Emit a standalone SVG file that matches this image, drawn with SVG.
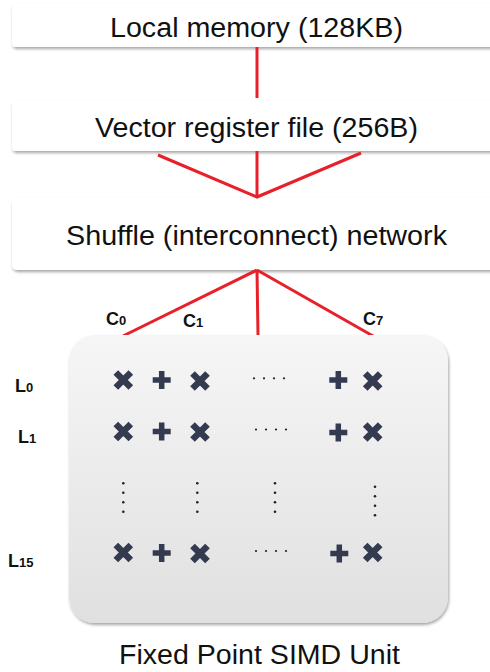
<svg xmlns="http://www.w3.org/2000/svg" width="490" height="672" viewBox="0 0 490 672">
<style>
.box{fill:#ffffff}
.lbl{font-family:"Liberation Sans",Arial,sans-serif;font-size:27px;fill:#111}
.sm{font-family:"Liberation Sans",Arial,sans-serif;font-weight:bold;font-size:18px;fill:#111}
.sub{font-size:13px}
.wire{stroke:#e8202a;stroke-width:3;fill:none}
.mul{stroke:#343a4f;stroke-width:6.5;fill:none}
.add{stroke:#343a4f;stroke-width:5.5;fill:none}
.dot{fill:#222}
</style>
<defs>
<filter id="sh" x="-10%" y="-20%" width="130%" height="160%">
<feDropShadow dx="1" dy="2" stdDeviation="1.5" flood-color="#000" flood-opacity="0.35"/>
</filter>
<linearGradient id="g" x1="0" y1="0" x2="0" y2="1">
<stop offset="0" stop-color="#f6f6f6"/>
<stop offset="1" stop-color="#e0e0e0"/>
</linearGradient>
<path id="mx" class="mul" d="M-7.5,-7.5 L7.5,7.5 M7.5,-7.5 L-7.5,7.5"/>
<path id="pl" class="add" d="M-9,0 H9 M0,-9 V9"/>
<g id="hd"><circle cx="0" cy="0" r="1.1" class="dot"/><circle cx="10" cy="0" r="1.1" class="dot"/><circle cx="20" cy="0" r="1.1" class="dot"/><circle cx="30" cy="0" r="1.1" class="dot"/></g>
<g id="vd"><circle cx="0" cy="0" r="1.3" class="dot"/><circle cx="0" cy="9.5" r="1.3" class="dot"/><circle cx="0" cy="19" r="1.3" class="dot"/><circle cx="0" cy="28.5" r="1.3" class="dot"/></g>
</defs>

<g id="local-memory">
<rect class="box" x="12" y="3" width="500" height="44" rx="4" filter="url(#sh)"/>
<text class="lbl" x="110" y="37" textLength="293" lengthAdjust="spacingAndGlyphs">Local memory (128KB)</text>
</g>
<g id="vector-register-file">
<rect class="box" x="12" y="100" width="500" height="51" rx="4" filter="url(#sh)"/>
<text class="lbl" x="95" y="136.5" textLength="323" lengthAdjust="spacingAndGlyphs">Vector register file (256B)</text>
</g>
<g id="shuffle-network">
<rect class="box" x="12" y="198" width="500" height="72" rx="5" filter="url(#sh)"/>
<text class="lbl" x="66" y="245" textLength="381" lengthAdjust="spacingAndGlyphs">Shuffle (interconnect) network</text>
</g>

<g id="connectors">
<line class="wire" x1="257" y1="47" x2="257" y2="98"/>
<polyline class="wire" points="158,155 257,197 361,153"/>
<line class="wire" x1="257" y1="151" x2="257" y2="197"/>
<line class="wire" x1="257" y1="270" x2="123" y2="336"/>
<line class="wire" x1="257" y1="270" x2="258" y2="336"/>
<line class="wire" x1="257" y1="270" x2="373" y2="336"/>
</g>

<g id="column-labels">
<text class="sm" x="106" y="325">C<tspan class="sub">0</tspan></text>
<text class="sm" x="183" y="327">C<tspan class="sub">1</tspan></text>
<text class="sm" x="363" y="325">C<tspan class="sub">7</tspan></text>
</g>

<g id="simd-unit">
<rect x="69" y="335" width="379" height="288" rx="26" fill="url(#g)" filter="url(#sh)"/>
<use href="#mx" x="123.3" y="380"/><use href="#pl" x="161.7" y="380"/><use href="#mx" x="200" y="381"/>
<use href="#hd" x="254" y="378.3"/>
<use href="#pl" x="338.3" y="380"/><use href="#mx" x="372.7" y="381"/>

<use href="#mx" x="123.3" y="431.5"/><use href="#pl" x="161.7" y="431.5"/><use href="#mx" x="200" y="432"/>
<use href="#hd" x="256" y="429.5"/>
<use href="#pl" x="338.3" y="432.5"/><use href="#mx" x="372.7" y="432"/>

<use href="#vd" x="123.3" y="483.3"/><use href="#vd" x="197.3" y="483.3"/><use href="#vd" x="275" y="483.3"/><use href="#vd" x="375" y="486.7"/>

<use href="#mx" x="123.3" y="552.5"/><use href="#pl" x="161.7" y="553"/><use href="#mx" x="200" y="553.5"/>
<use href="#hd" x="256" y="551"/>
<use href="#pl" x="339.3" y="553.5"/><use href="#mx" x="372.7" y="552.5"/>
</g>

<g id="row-labels">
<text class="sm" x="15" y="391.5">L<tspan class="sub">0</tspan></text>
<text class="sm" x="18" y="443">L<tspan class="sub">1</tspan></text>
<text class="sm" x="8" y="566.5">L<tspan class="sub">15</tspan></text>
</g>

<text id="caption" class="lbl" x="119" y="664" textLength="281" lengthAdjust="spacingAndGlyphs">Fixed Point SIMD Unit</text>
</svg>
